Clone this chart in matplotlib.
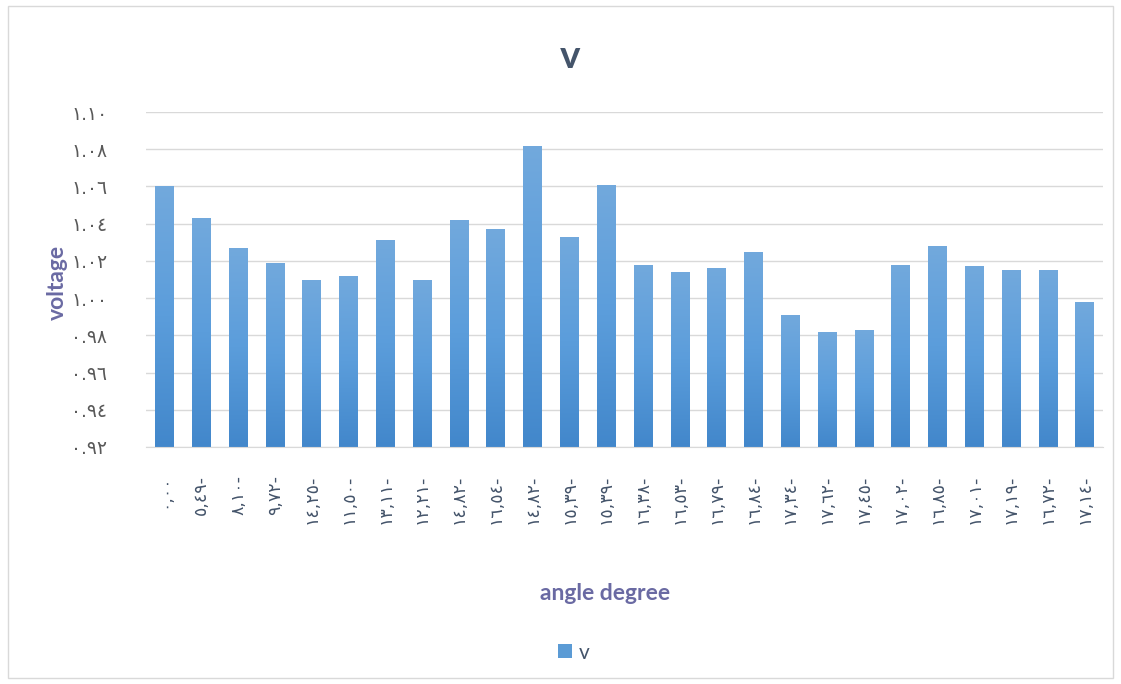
import matplotlib
matplotlib.use("Agg")
import matplotlib.pyplot as plt
import numpy as np
from matplotlib.patches import Rectangle
from matplotlib.colors import LinearSegmentedColormap

# ---- data ----
angle_labels = ["٠,٠٠", "٥,٤٩-", "٨,١٠-", "٩,٧٢-", "١٤,٢٥-", "١١,٥٠-", "١٣,١١-",
                "١٢,٢١-", "١٤,٨٢-", "١٦,٥٤-", "١٤,٨٢-", "١٥,٣٩-", "١٥,٣٩-",
                "١٦,٣٨-", "١٦,٥٣-", "١٦,٧٩-", "١٦,٨٤-", "١٧,٣٤-", "١٧,٦٢-",
                "١٧,٤٥-", "١٧,٠٢-", "١٦,٨٥-", "١٧,٠١-", "١٧,١٩-", "١٦,٧٢-",
                "١٧,١٤-"]
voltage = [1.060, 1.043, 1.027, 1.019, 1.010, 1.012, 1.031, 1.010, 1.042,
           1.037, 1.082, 1.033, 1.061, 1.018, 1.014, 1.016, 1.025, 0.991,
           0.982, 0.983, 1.018, 1.028, 1.017, 1.015, 1.015, 0.998]
y_ticks = [0.92, 0.94, 0.96, 0.98, 1.00, 1.02, 1.04, 1.06, 1.08, 1.10]
y_tick_labels = ["٠.٩٢", "٠.٩٤", "٠.٩٦", "٠.٩٨", "١.٠٠", "١.٠٢", "١.٠٤",
                 "١.٠٦", "١.٠٨", "١.١٠"]

W, H = 1121, 684
fig = plt.figure(figsize=(W / 100, H / 100), dpi=100)
fig.patch.set_facecolor("white")
# chart border
fig.add_artist(Rectangle((8 / W, 6 / H), 1 - 16 / W, 1 - 12 / H,
                         transform=fig.transFigure, fill=False,
                         edgecolor="#D9D9D9", linewidth=1.0))

ax = fig.add_axes([146 / W, 1 - 447 / H, (1103 - 146) / W, (447 - 112) / H])
ymin, ymax = 0.92, 1.10

x = np.arange(len(voltage))
bw = 0.5
bars = ax.bar(x, voltage, width=bw, color="#5B9BD5", zorder=2)

cmap = LinearSegmentedColormap.from_list("g", ["#4287CB", "#5B9DDB", "#72A9DD"])
grad = np.linspace(0, 1, 256).reshape(-1, 1)
for b, v, xi in zip(bars, voltage, x):
    b.set_facecolor("none")
    b.set_edgecolor("none")
    im = ax.imshow(grad, extent=(xi - bw / 2, xi + bw / 2, ymin, v),
                   origin="lower", cmap=cmap, aspect="auto", zorder=2)
    im.set_clip_path(b)
ax.set_aspect("auto")
ax.set_xlim(-0.5, len(voltage) - 0.5)
ax.set_ylim(ymin, ymax)

ax.set_yticks(y_ticks)
ax.set_yticklabels(y_tick_labels, fontsize=13.5, color="#595959",
                   family=["DejaVu Sans"])
ax.set_xticks(x)
ax.set_xticklabels(angle_labels, rotation=90, fontsize=12.5, color="#44546A",
                   family=["DejaVu Sans"], va="top")
ax.tick_params(axis="both", length=0)
ax.tick_params(axis="y", pad=28)
ax.tick_params(axis="x", pad=20)
ax.grid(axis="y", color="#D9D9D9", linewidth=1.0, zorder=0)
ax.set_axisbelow(True)
for s in ["top", "right", "left"]:
    ax.spines[s].set_visible(False)
ax.spines["bottom"].set_color("#D9D9D9")

fig.text(570 / W, 1 - 57 / H, "v", ha="center", va="center", fontsize=28,
         fontweight="bold", color="#44546A", family=["Lato", "DejaVu Sans"])
fig.text(57 / W, 1 - 282 / H, "voltage", ha="center", va="center",
         rotation=90, fontsize=16.5, fontweight="bold", color="#6A6AA3",
         family=["Lato", "DejaVu Sans"])
fig.text(605 / W, 1 - 593 / H, "angle degree", ha="center", va="center",
         fontsize=16.5, fontweight="bold", color="#6A6AA3",
         family=["Lato", "DejaVu Sans"])

# legend
fig.add_artist(Rectangle((558 / W, 1 - 658 / H), 14 / W, 14 / H,
                         transform=fig.transFigure, facecolor="#5B9BD5",
                         edgecolor="none"))
fig.text(579 / W, 1 - 653 / H, "v", ha="left", va="center", fontsize=15,
         color="#44546A", family=["Lato", "DejaVu Sans"])

fig.savefig("out.png", dpi=100, facecolor="white")
